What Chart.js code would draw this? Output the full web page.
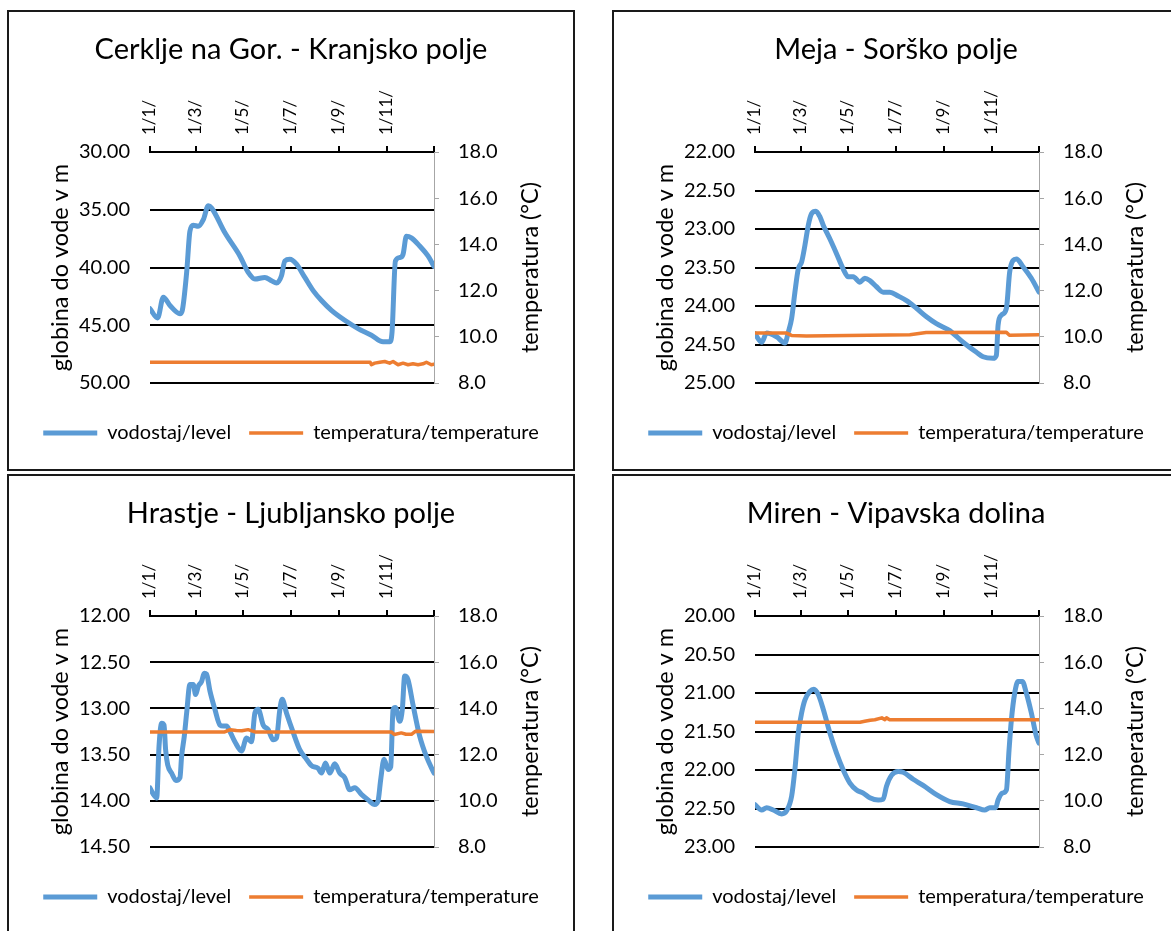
<!DOCTYPE html>
<html><head><meta charset="utf-8">
<script src="https://cdn.jsdelivr.net/npm/chart.js@4.4.1/dist/chart.umd.min.js"></script>
<style>
html,body{margin:0;padding:0;background:#fff;width:1171px;height:931px;overflow:hidden;position:relative;}
.panel{position:absolute;box-sizing:border-box;width:568px;height:461px;border:2px solid #1a1a1a;background:#fff;}
.panel canvas{position:absolute;left:0;top:0;}
</style></head><body>
<div class="panel" style="left:7px;top:10px"><canvas id="c1" width="564" height="457"></canvas></div>
<div class="panel" style="left:612px;top:10px"><canvas id="c2" width="564" height="457"></canvas></div>
<div class="panel" style="left:7px;top:474px"><canvas id="c3" width="564" height="457"></canvas></div>
<div class="panel" style="left:612px;top:474px"><canvas id="c4" width="564" height="457"></canvas></div>
<script>
// ---- axis ticks ----
const xTickDays = [0, 59, 120, 181, 243, 304, 365];
const xTickLabels = ['1/1/', '1/3/', '1/5/', '1/7/', '1/9/', '1/11/', ''];
const seriesNames = ['vodostaj/level', 'temperatura/temperature'];
const leftAxisTitle = 'globina do vode v m';
const rightAxisTitle = 'temperatura (°C)';

// ---- Cerklje na Gor. - Kranjsko polje ----
const cerkljeLevelDay = [0,9.8,17.1,25.7,38.5,41.5,47.1,51.3,55.6,62,68.5,74.9,79.2,96.3,115.5,126.2,134.8,147.6,156.2,162.6,169,173.3,179.7,188.3,199,209.7,220.4,233.2,250.3,267.4,284.6,299.5,308.1,311.1,315.4,320.9,325.2,329.5,335.9,346.6,357.3,365];
const cerkljeLevel = [43.57,44.37,42.57,43.29,44.0,43.71,40.43,36.86,36.34,36.43,35.86,34.66,34.86,37.0,39.0,40.43,41.0,40.86,41.14,41.34,40.71,39.43,39.29,39.71,40.86,42.0,42.86,43.71,44.57,45.29,45.86,46.43,46.43,45.57,39.43,39.14,38.86,37.29,37.43,38.14,39.0,39.91];
const cerkljeTempDay = [0,283,284.6,288.8,295.3,301.7,308,312.4,318.8,325.2,331.6,338,344.5,350.9,355.2,361.6,365];
const cerkljeTemp = [8.9,8.9,8.79,8.86,8.9,8.93,8.86,8.93,8.79,8.86,8.79,8.83,8.79,8.83,8.9,8.79,8.81];

// ---- Meja - Sorško polje ----
const mejaLevelDay = [0,8.6,15,27.8,38.5,42.8,47.1,51.3,55.6,59.9,64.2,68.5,72.7,78.3,83.4,87.7,96.3,104.8,113.4,119.8,126.2,134.8,141.2,147.6,156.2,164.7,173.3,184,194.7,207.5,220.4,233.2,250.3,267.4,284.6,293.1,305.9,310.2,312.4,316.6,323.1,327.3,331.6,335.9,344.5,355.2,365];
const mejaLevel = [24.36,24.47,24.35,24.40,24.48,24.34,24.16,23.82,23.52,23.43,23.21,22.95,22.80,22.77,22.84,22.95,23.13,23.32,23.52,23.62,23.62,23.69,23.64,23.67,23.75,23.82,23.82,23.87,23.93,24.03,24.14,24.23,24.32,24.47,24.60,24.66,24.68,24.64,24.25,24.12,24.03,23.56,23.41,23.39,23.49,23.64,23.82];
const mejaTempDay = [0,40.6,47,66,199,220,323,327,365];
const mejaTemp = [10.16,10.16,10.06,10.04,10.09,10.19,10.2,10.07,10.09];

// ---- Hrastje - Ljubljansko polje ----
const hrastjeLevelDay = [0,4.3,8.6,11.6,15,18,20.1,22.7,27.8,33.4,38.5,40.6,44.1,47.1,51.3,55.6,58.6,62,66.3,69.7,72.7,77,83.4,89.9,94.1,98.4,102.7,109.1,117.7,124.1,130.5,134.8,139.1,145.5,151.9,158.3,162.6,166.9,169.9,175.4,184,192.6,201.1,207.5,216.1,220.4,225.5,231.1,237.5,243.9,250.3,256.7,263.2,271.7,280.3,288.8,293.1,296.5,300.8,305.9,309.4,312.4,315.4,320.9,324.3,327.3,331.6,338,346.6,355.2,365];
const hrastjeLevel = [13.86,13.93,13.97,13.41,13.16,13.18,13.45,13.61,13.70,13.78,13.75,13.52,13.30,13.05,12.74,12.74,12.85,12.76,12.71,12.62,12.63,12.81,13.01,13.18,13.19,13.19,13.25,13.36,13.46,13.32,13.36,13.05,13.01,13.18,13.23,13.34,13.32,13.01,12.90,13.05,13.26,13.45,13.55,13.62,13.65,13.70,13.59,13.70,13.60,13.70,13.75,13.88,13.86,13.93,13.99,14.04,14.00,13.77,13.55,13.66,13.63,13.01,12.99,13.14,13.01,12.65,12.69,12.96,13.30,13.52,13.70];
const hrastjeTempDay = [0,96,103,111,118,126,135,310,314,323,329,336,341,365];
const hrastjeTemp = [12.98,12.98,13.08,13.04,13.03,13.08,12.98,12.98,12.87,12.94,12.88,12.88,13.01,13.0];

// ---- Miren - Vipavska dolina ----
const mirenLevelDay = [0,8.6,15,23.5,34.2,40.6,47.1,51.3,55.6,59.9,64.2,70.6,75.7,81.3,87.7,96.3,104.8,113.4,122,130.5,139.1,147.6,158.3,164.7,169,175.4,184,190.4,203.3,216.1,233.2,250.3,267.4,284.6,295.2,301.7,309.4,312.4,317.9,323.1,326.5,329.5,333.8,338,343.6,348.7,355.2,361.6,365];
const mirenLevel = [22.45,22.52,22.49,22.52,22.57,22.53,22.34,21.99,21.52,21.26,21.09,20.98,20.95,21.02,21.21,21.52,21.78,22.00,22.17,22.26,22.30,22.36,22.39,22.38,22.21,22.07,22.02,22.03,22.12,22.20,22.32,22.41,22.44,22.49,22.52,22.49,22.49,22.39,22.30,22.26,21.74,21.35,21.00,20.85,20.85,21.00,21.26,21.56,21.65];
const mirenTempDay = [0,135,141,148,154,163,167,169,173,365];
const mirenTemp = [13.4,13.4,13.44,13.49,13.51,13.59,13.51,13.59,13.51,13.51];

Chart.defaults.font.family = 'Lato';
Chart.defaults.color = '#000';

const rightTitlePlugin = {
  id: 'rightTitle',
  afterDraw(chart, args, opts) {
    const {ctx, chartArea} = chart;
    ctx.save();
    ctx.font = opts.size + 'px Lato';
    ctx.fillStyle = '#000';
    ctx.textAlign = 'center';
    ctx.textBaseline = 'middle';
    ctx.translate(chartArea.right + opts.offset, (chartArea.top + chartArea.bottom) / 2);
    ctx.rotate(-Math.PI / 2);
    ctx.fillText(opts.text, 0, 0);
    ctx.restore();
  }
};

function pts(days, vals) { return days.map((d, i) => ({x: d, y: vals[i]})); }

function makeChart(id, title, lDays, lVals, tDays, tVals, yMin, yMax, yStep) {
  new Chart(document.getElementById(id), {
    type: 'line',
    data: {
      datasets: [
        {label: seriesNames[0], data: pts(lDays, lVals), yAxisID: 'y', xAxisID: 'x',
         borderColor: '#5B9BD5', backgroundColor: '#5B9BD5', borderWidth: 5, pointRadius: 0,
         cubicInterpolationMode: 'monotone', borderCapStyle: 'round', borderJoinStyle: 'round', order: 1},
        {label: seriesNames[1], data: pts(tDays, tVals), yAxisID: 'y1', xAxisID: 'x',
         borderColor: '#ED7D31', backgroundColor: '#ED7D31', borderWidth: 3.5, pointRadius: 0,
         tension: 0, borderCapStyle: 'round', borderJoinStyle: 'round', order: 0}
      ]
    },
    plugins: [rightTitlePlugin],
    options: {
      responsive: false, animation: false, devicePixelRatio: 1,
      layout: {padding: {left: 0, right: 0, top: 0, bottom: 16}},
      plugins: {
        title: {display: true, text: title, font: {size: 29, weight: 'normal'}, color: '#000', padding: {top: 20.6, bottom: 0}},
        legend: {position: 'bottom', labels: {usePointStyle: true, pointStyle: 'line', pointStyleWidth: 54, padding: 18,
                 font: {size: 20}, color: '#000', sort: (a, b) => a.datasetIndex - b.datasetIndex}},
        tooltip: {enabled: false},
        rightTitle: {text: rightAxisTitle, offset: 96, size: 23.5}
      },
      scales: {
        x: {type: 'linear', position: 'top', min: 0, max: 365,
            afterBuildTicks: s => { s.ticks = xTickDays.map(v => ({value: v})); },
            afterFit: s => { s.height = 84.6; },
            ticks: {autoSkip: false, minRotation: 90, maxRotation: 90, padding: 11, labelOffset: 20, font: {size: 17},
                    callback: (v, i) => xTickLabels[i]},
            grid: {drawOnChartArea: false, drawTicks: true, tickLength: 6, color: '#000', lineWidth: 2},
            border: {display: true, color: '#000', width: 2}},
        gap: {type: 'linear', axis: 'x', position: 'bottom', display: true,
              afterFit: s => { s.height = 22; },
              ticks: {display: false}, grid: {display: false, drawTicks: false}, border: {display: false}},
        y: {type: 'linear', position: 'left', reverse: true, min: yMin, max: yMax,
            afterFit: s => { s.width = 141; },
            ticks: {stepSize: yStep, padding: 20, font: {size: 20}, callback: v => v.toFixed(2)},
            grid: {color: '#000', lineWidth: 2, drawTicks: false},
            border: {display: false},
            title: {display: true, text: leftAxisTitle, font: {size: 23.5}, color: '#000', padding: {top: 37, bottom: 0}}},
        y1: {type: 'linear', position: 'right', min: 8, max: 18,
             afterFit: s => { s.width = 139; },
             ticks: {stepSize: 2, padding: 19, font: {size: 20}, callback: v => v.toFixed(1)},
             grid: {drawOnChartArea: false, drawTicks: true, tickLength: 5, color: '#a6a6a6', lineWidth: 1},
             border: {display: true, color: '#a6a6a6', width: 1}}
      }
    }
  });
}

makeChart('c1', 'Cerklje na Gor. - Kranjsko polje', cerkljeLevelDay, cerkljeLevel, cerkljeTempDay, cerkljeTemp, 30, 50, 5);
makeChart('c2', 'Meja - Sorško polje', mejaLevelDay, mejaLevel, mejaTempDay, mejaTemp, 22, 25, 0.5);
makeChart('c3', 'Hrastje - Ljubljansko polje', hrastjeLevelDay, hrastjeLevel, hrastjeTempDay, hrastjeTemp, 12, 14.5, 0.5);
makeChart('c4', 'Miren - Vipavska dolina', mirenLevelDay, mirenLevel, mirenTempDay, mirenTemp, 20, 23, 0.5);
</script>
</body></html>
